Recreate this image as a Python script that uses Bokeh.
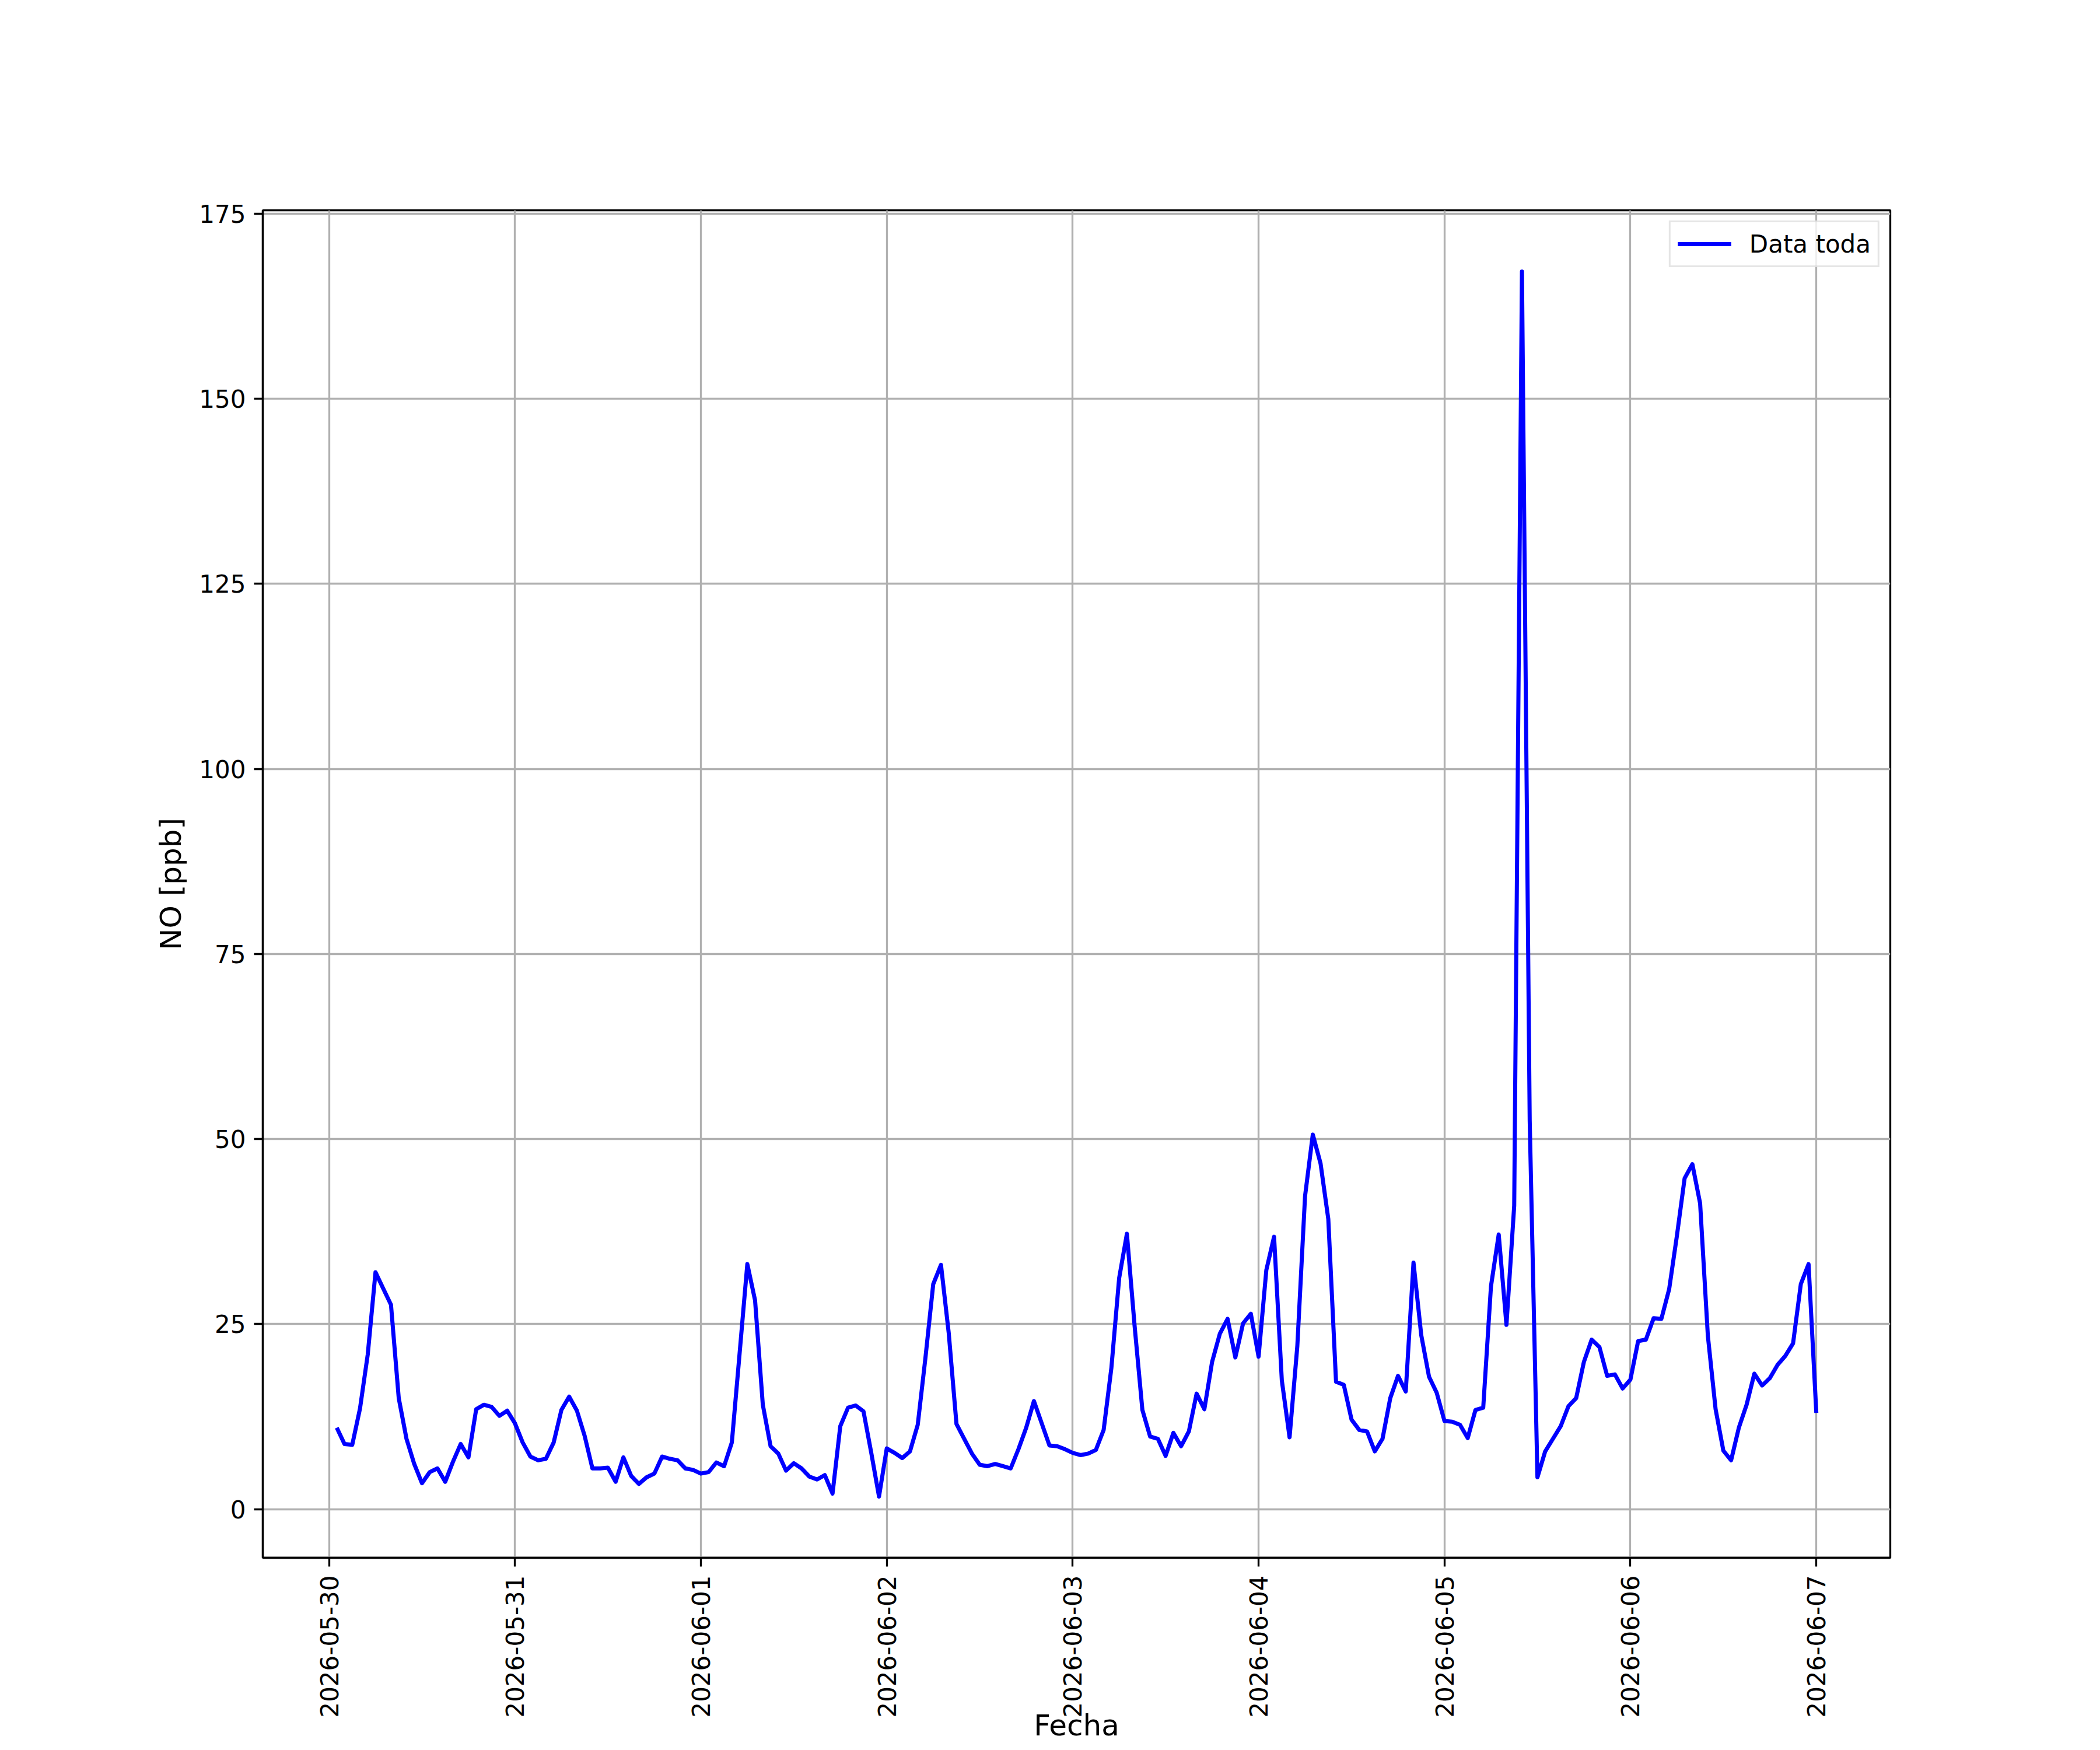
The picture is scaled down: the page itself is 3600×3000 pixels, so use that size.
import pandas as pd
from math import pi
from bokeh.plotting import figure
from bokeh.models import Range1d, FixedTicker, DatetimeTickFormatter
from bokeh.embed import file_html
from bokeh.resources import INLINE

# ---- data (hourly NO readings, ppb) ----
start_time = "2026-05-30 01:00"
no_ppb = [
    # 05-30 01h .. 05-31 00h
    11.0, 8.8, 8.7, 13.6, 20.9, 32.0, 29.8, 27.6, 15.0, 9.5, 6.1, 3.5,
    5.0, 5.5, 3.7, 6.4, 8.8, 7.0, 13.5, 14.1, 13.8, 12.6, 13.3, 11.6,
    # 05-31 01h .. 06-01 00h
    9.0, 7.1, 6.6, 6.8, 9.0, 13.4, 15.2, 13.3, 9.9, 5.5, 5.5, 5.6,
    3.7, 7.0, 4.5, 3.4, 4.3, 4.8, 7.1, 6.8, 6.6, 5.5, 5.3, 4.8,
    # 06-01 01h .. 06-02 00h
    5.0, 6.3, 5.8, 9.0, 21.0, 33.1, 28.2, 14.1, 8.5, 7.5, 5.2, 6.2,
    5.5, 4.4, 4.0, 4.6, 2.1, 11.2, 13.7, 14.0, 13.2, 7.6, 1.7, 8.2,
    # 06-02 01h .. 06-03 00h
    7.6, 6.9, 7.8, 11.4, 20.5, 30.4, 33.0, 23.8, 11.5, 9.5, 7.5, 6.0,
    5.8, 6.1, 5.8, 5.5, 8.1, 11.0, 14.6, 11.6, 8.6, 8.5, 8.1, 7.6,
    # 06-03 01h .. 06-04 00h
    7.3, 7.5, 8.0, 10.7, 19.1, 31.2, 37.2, 24.7, 13.4, 9.8, 9.5, 7.2,
    10.3, 8.5, 10.5, 15.6, 13.5, 19.9, 23.7, 25.7, 20.5, 25.1, 26.4, 20.6,
    # 06-04 01h .. 06-05 00h
    32.3, 36.8, 17.4, 9.7, 22.0, 42.3, 50.6, 46.7, 39.2, 17.2, 16.8, 12.1,
    10.7, 10.5, 7.8, 9.5, 15.0, 18.0, 15.9, 33.3, 23.5, 17.9, 15.7, 11.9,
    # 06-05 01h .. 06-06 00h
    11.8, 11.4, 9.6, 13.4, 13.7, 30.1, 37.1, 24.9, 41.0, 167.2, 52.5, 4.3,
    7.8, 9.5, 11.2, 13.9, 15.0, 19.9, 22.9, 21.9, 18.0, 18.2, 16.3, 17.5,
    # 06-06 01h .. 06-07 00h
    22.7, 22.9, 25.8, 25.7, 29.7, 36.9, 44.7, 46.6, 41.3, 23.4, 13.5, 7.9,
    6.6, 11.0, 14.1, 18.3, 16.7, 17.7, 19.5, 20.7, 22.4, 30.4, 33.1, 13.0,
]
x_tick_labels = ["2026-05-30", "2026-05-31", "2026-06-01", "2026-06-02",
                 "2026-06-03", "2026-06-04", "2026-06-05", "2026-06-06",
                 "2026-06-07"]
y_ticks = [0, 25, 50, 75, 100, 125, 150, 175]
series_label = "Data toda"
x_title = "Fecha"
y_title = "NO [ppb]"

times = pd.date_range(start_time, periods=len(no_ppb), freq="h")

# ---- layout ----
W, H = 3584, 2992
BL, BT = 450, 360
BR = W - 3240
BB = H - 2670
FONT = "DejaVu Sans"

def to_ms(t):
    return pd.Timestamp(t).value / 1e6

t0, t1 = to_ms(times[0]), to_ms(times[-1])
xpad = (t1 - t0) * 0.05
vmin, vmax = min(no_ppb), max(no_ppb)
ypad = (vmax - vmin) * 0.05

p = figure(width=W, height=H, output_backend="svg", toolbar_location=None,
           x_axis_type="datetime",
           x_range=Range1d(t0 - xpad, t1 + xpad),
           y_range=Range1d(vmin - ypad, vmax + ypad),
           min_border_left=BL, min_border_right=BR,
           min_border_top=BT, min_border_bottom=BB)
p.background_fill_color = "white"
p.border_fill_color = "white"
p.outline_line_color = "black"
p.outline_line_width = 3.3

xticker = FixedTicker(ticks=[to_ms(d) for d in x_tick_labels])
yticker = FixedTicker(ticks=y_ticks)
p.xaxis.ticker = xticker
p.yaxis.ticker = yticker
p.xgrid.ticker = xticker
p.ygrid.ticker = yticker
fmt = "%Y-%m-%d"
p.xaxis.formatter = DatetimeTickFormatter(hours=fmt, hourmin=fmt, days=fmt,
                                          months=fmt, years=fmt)
p.xaxis.major_label_orientation = pi / 2

for ax in (p.xaxis[0], p.yaxis[0]):
    ax.axis_line_color = "black"
    ax.axis_line_width = 3.3
    ax.major_tick_line_color = "black"
    ax.major_tick_line_width = 3.3
    ax.major_tick_out = 15
    ax.major_tick_in = 0
    ax.minor_tick_line_color = None
    ax.major_label_text_font = FONT
    ax.major_label_text_font_size = "42px"
    ax.major_label_text_color = "black"
    ax.axis_label_text_font = FONT
    ax.axis_label_text_font_size = "50px"
    ax.axis_label_text_font_style = "normal"
    ax.axis_label_text_color = "black"

p.xaxis.major_label_standoff = 15
p.xaxis.axis_label_standoff = -19
p.xaxis.axis_label = x_title
p.yaxis.major_label_standoff = 14
p.yaxis.axis_label_standoff = 16
p.yaxis.axis_label = y_title

for g in (p.xgrid[0], p.ygrid[0]):
    g.grid_line_color = "#b0b0b0"
    g.grid_line_width = 3.3

p.line(times, no_ppb, line_color="blue", line_width=7, line_join="round",
       legend_label=series_label)

lg = p.legend[0]
lg.location = "top_right"
lg.margin = 18
lg.padding = 12
lg.spacing = 0
lg.glyph_width = 92
lg.glyph_height = 50
lg.label_height = 50
lg.label_standoff = 31
lg.label_text_font = FONT
lg.label_text_font_size = "42px"
lg.label_text_color = "black"
lg.border_line_color = "#cccccc"
lg.border_line_width = 3.3
lg.background_fill_alpha = 0.8

open("out.html", "w").write(file_html(p, INLINE))
